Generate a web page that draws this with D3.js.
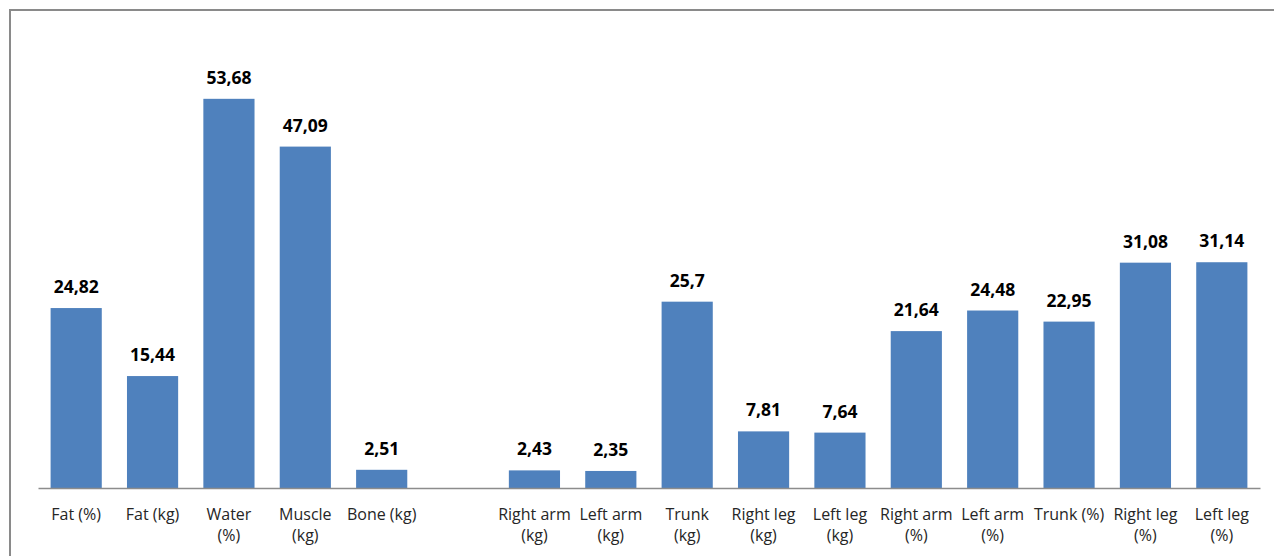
<!DOCTYPE html>
<meta charset="utf-8">
<html>
<head>
    <script src="https://d3js.org/d3.v7.min.js"></script>
    <style>
        body { margin: 0; background: #fff; }
        svg { display: block; }
        .bar-label { font-family: 'Open Sans'; font-weight: bold; font-size: 17.5px; fill: #000; }
        .cat-label { font-family: 'Open Sans'; font-size: 16px; fill: #262626; }
    </style>
</head>
<body>
<svg width="1274" height="556"></svg>
<script>
    // categories (blank slot separates the two groups), "\n" = line break
    const categories = [
        "Fat (%)", "Fat (kg)", "Water\n(%)", "Muscle\n(kg)", "Bone (kg)", "",
        "Right arm\n(kg)", "Left arm\n(kg)", "Trunk\n(kg)", "Right leg\n(kg)", "Left leg\n(kg)",
        "Right arm\n(%)", "Left arm\n(%)", "Trunk (%)", "Right leg\n(%)", "Left leg\n(%)"
    ];
    const values = [
        24.82, 15.44, 53.68, 47.09, 2.51, null,
        2.43, 2.35, 25.7, 7.81, 7.64,
        21.64, 24.48, 22.95, 31.08, 31.14
    ];
    const yDomain = [0, 60];

    const svg = d3.select("svg");

    // outer frame
    svg.append("rect")
        .attr("x", 10).attr("y", 10)
        .attr("width", 1280).attr("height", 560)
        .attr("fill", "none")
        .attr("stroke", "#8a8a8a")
        .attr("stroke-width", 2);

    const x = d3.scaleBand()
        .domain(d3.range(categories.length))
        .range([38, 1260])
        .paddingInner(0.33)
        .paddingOuter(0.165);

    const y = d3.scaleLinear().domain(yDomain).range([488, 53]);

    const data = categories.map((c, i) => ({ i, c, v: values[i] }));

    svg.append("g").selectAll("rect")
        .data(data.filter(d => d.v != null))
        .join("rect")
        .attr("x", d => x(d.i))
        .attr("y", d => y(d.v))
        .attr("width", x.bandwidth())
        .attr("height", d => y(0) - y(d.v))
        .attr("fill", "#4f81bd");

    // baseline
    const xAxis = d3.axisBottom(x).tickSize(0).tickFormat("");
    const ax = svg.append("g")
        .attr("transform", `translate(0,${y(0)})`)
        .call(xAxis);
    ax.select(".domain").attr("stroke", "#8c8c8c").attr("stroke-width", 1.3);

    // value labels
    svg.append("g").selectAll("text")
        .data(data.filter(d => d.v != null))
        .join("text")
        .attr("class", "bar-label")
        .attr("x", d => x(d.i) + x.bandwidth() / 2)
        .attr("y", d => y(d.v) - 15)
        .attr("text-anchor", "middle")
        .text(d => String(d.v).replace(".", ","));

    // category labels
    const cl = svg.append("g").selectAll("text")
        .data(data)
        .join("text")
        .attr("class", "cat-label")
        .attr("text-anchor", "middle")
        .attr("x", d => x(d.i) + x.bandwidth() / 2)
        .attr("y", 520);

    cl.selectAll("tspan")
        .data(d => d.c.split("\n").map(t => ({ t, cx: x(d.i) + x.bandwidth() / 2 })))
        .join("tspan")
        .attr("x", d => d.cx)
        .attr("dy", (d, j) => j === 0 ? 0 : 21)
        .text(d => d.t);
</script>
</body>
</html>
